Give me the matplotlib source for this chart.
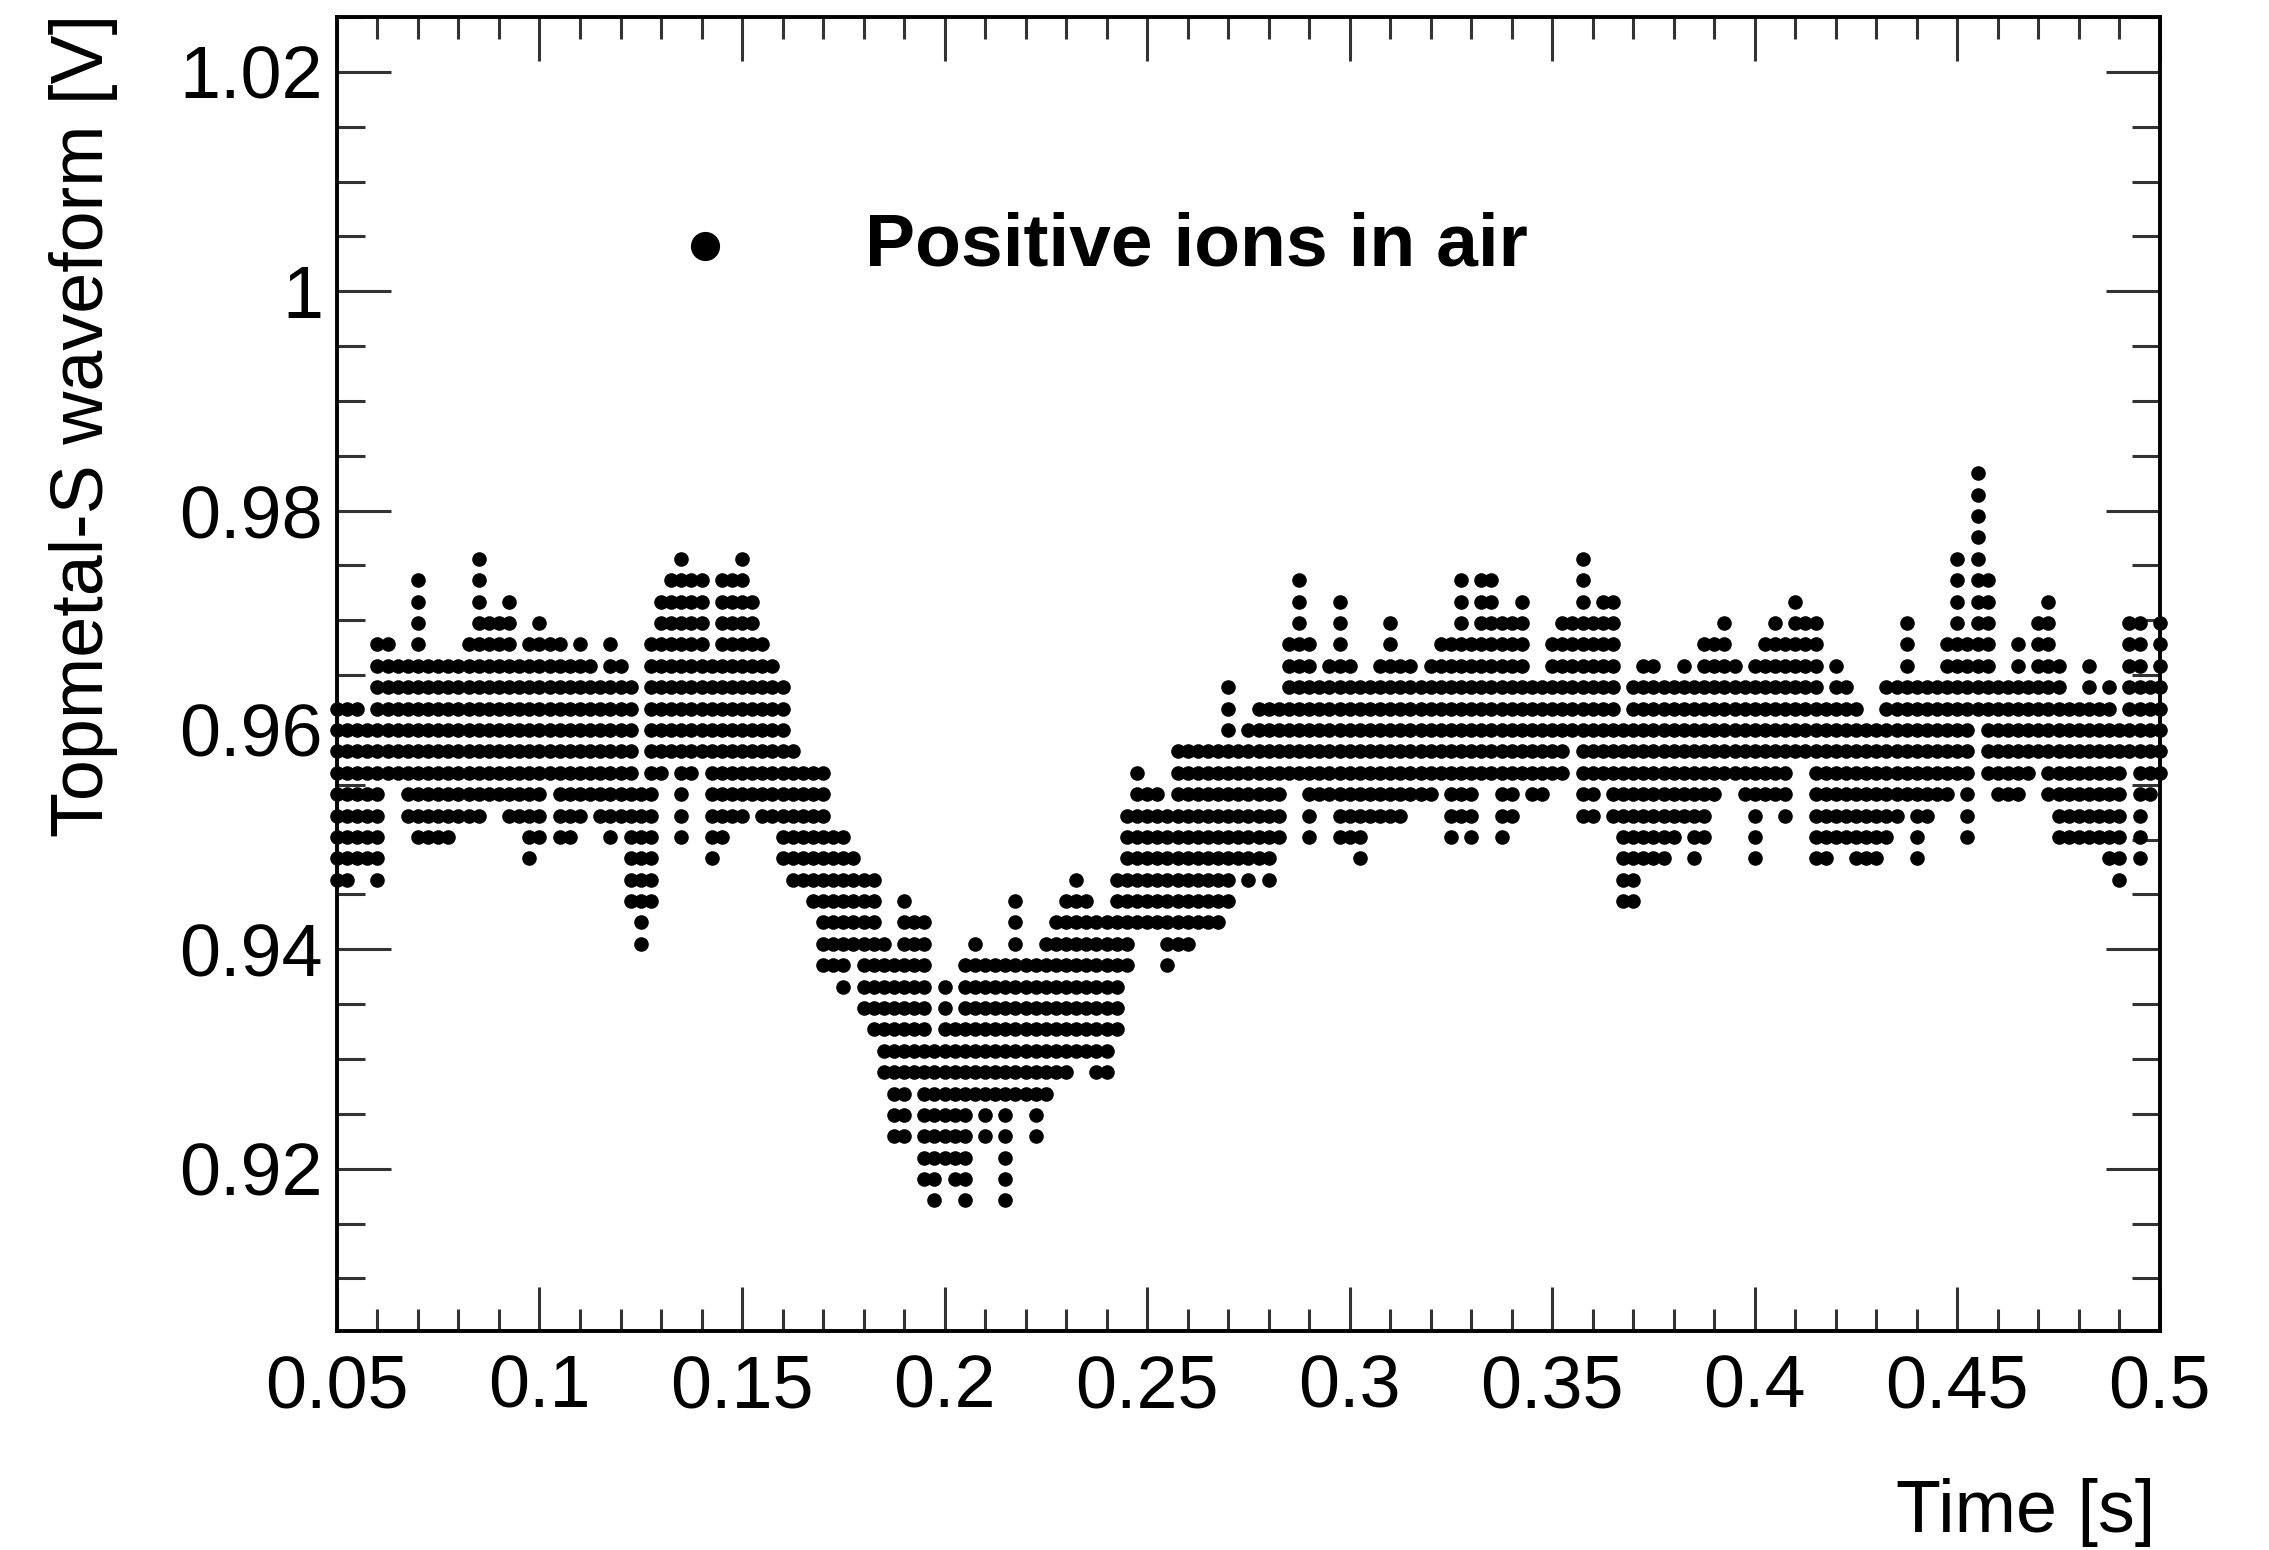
import numpy as np
import matplotlib
matplotlib.use("Agg")
import matplotlib.pyplot as plt
from matplotlib.ticker import MultipleLocator, FixedLocator

plt.rcParams['font.family'] = ['Liberation Sans', 'DejaVu Sans']

# ---- data ----
# sampling grid of the waveform columns
t_start = 0.05
t_step = 0.0025
n_cols = 181
# ADC quantisation: level n -> V = V0 + n * STEP
V0 = 0.960
STEP = 0.00195

# highest and lowest occupied ADC level in each time column
col_hi = [
    1, 1, 1, 0, 4, 4, 3, 3, 7, 3,
    3, 3, 3, 4, 8, 5, 5, 6, 3, 4,
    5, 4, 4, 3, 4, 3, 2, 4, 3, 2,
    -3, 4, 6, 7, 8, 7, 7, 3, 7, 7,
    8, 6, 4, 3, 2, -1, -2, -2, -2, -5,
    -5, -6, -7, -7, -10, -11, -8, -9, -9, -15,
    -12, -14, -11, -10, -11, -11, -11, -8, -11, -11,
    -10, -9, -8, -7, -8, -9, -9, -7, -4, -2,
    -3, -3, -4, -1, -1, -1, -1, -1, 2, -1,
    0, 1, 1, 1, 4, 7, 4, 2, 3, 6,
    3, 2, 2, 3, 5, 3, 3, 2, 3, 4,
    4, 7, 4, 7, 7, 5, 5, 6, 2, 2,
    4, 5, 5, 8, 5, 6, 6, 0, 2, 3,
    3, 2, 2, 3, 2, 4, 4, 5, 3, 2,
    3, 4, 5, 4, 6, 5, 5, 1, 3, 2,
    1, 0, 0, 2, 2, 5, 2, 2, 2, 4,
    8, 4, 12, 7, 2, 2, 4, 2, 5, 6,
    3, 1, 1, 3, 1, 2, 0, 5, 5, 2,
    5]
col_lo = [
    -7, -7, -6, -6, -7, -2, -2, -4, -5, -5,
    -5, -5, -4, -4, -4, -3, -3, -4, -4, -6,
    -5, -2, -5, -5, -4, -3, -4, -5, -4, -8,
    -10, -8, -2, -1, -5, -2, -1, -6, -5, -4,
    -4, -3, -4, -4, -6, -7, -7, -8, -11, -11,
    -12, -10, -13, -14, -16, -19, -19, -16, -21, -22,
    -20, -21, -22, -17, -19, -17, -22, -17, -17, -19,
    -17, -16, -16, -15, -15, -16, -16, -14, -11, -9,
    -9, -9, -11, -10, -10, -9, -9, -9, -8, -6,
    -7, -6, -7, -5, -2, -2, -5, -3, -3, -5,
    -5, -6, -4, -4, -4, -4, -3, -3, -3, -2,
    -5, -4, -5, -2, -2, -5, -4, -2, -3, -3,
    -2, -2, 0, -4, -4, -2, -4, -8, -8, -6,
    -6, -6, -5, -4, -6, -5, -3, -2, -2, -3,
    -6, -3, -3, -4, -1, -1, -6, -6, -5, -5,
    -6, -6, -6, -5, -4, -3, -6, -4, -3, -3,
    -2, -5, 1, -2, -3, -3, -3, -2, -1, -3,
    -5, -5, -5, -5, -5, -6, -7, -1, -6, -3,
    -2]

x_ticks = [0.05, 0.1, 0.15, 0.2, 0.25, 0.3, 0.35, 0.4, 0.45, 0.5]
x_ticklabels = ["0.05", "0.1", "0.15", "0.2", "0.25", "0.3", "0.35", "0.4", "0.45", "0.5"]
y_ticks = [0.92, 0.94, 0.96, 0.98, 1.0, 1.02]
y_ticklabels = ["0.92", "0.94", "0.96", "0.98", "1", "1.02"]
legend_label = "Positive ions in air"

# ---- build point list ----
times = t_start + t_step * np.arange(n_cols)
xs, ys = [], []
for t, hi, lo in zip(times, col_hi, col_lo):
    for n in range(lo, hi + 1):
        xs.append(t)
        ys.append(V0 + n * STEP)

# ---- figure ----
fig = plt.figure(figsize=(22.69, 15.5), dpi=100)
ax = fig.add_axes([0.1485, 0.1413, 0.8034, 0.8477])

ax.plot(xs, ys, 'o', color='black', ms=10.5, mew=0, linestyle='none', clip_on=False)

ax.set_xlim(0.05, 0.5)
ax.set_ylim(0.9052, 1.025)

ax.xaxis.set_major_locator(FixedLocator(x_ticks))
ax.set_xticklabels(x_ticklabels)
ax.xaxis.set_minor_locator(MultipleLocator(0.01))
ax.yaxis.set_major_locator(FixedLocator(y_ticks))
ax.set_yticklabels(y_ticklabels)
ax.yaxis.set_minor_locator(MultipleLocator(0.005))

for s in ax.spines.values():
    s.set_linewidth(2.8)

ax.tick_params(axis='both', which='both', direction='in', top=True, right=True,
               labelsize=53, width=2.2, color='#333333')
ax.tick_params(axis='x', which='major', length=32, pad=16)
ax.tick_params(axis='x', which='minor', length=16)
ax.tick_params(axis='y', which='major', length=39, pad=10)
ax.tick_params(axis='y', which='minor', length=20)

fig.text(0.037, 0.991, "Topmetal-S waveform [V]", rotation=90, ha='center', va='top',
         fontsize=53)
fig.text(0.950, 0.0245, "Time [s]", ha='right', va='center', fontsize=53)

# legend
ax.plot([0.2019], [0.8257], 'o', color='black', ms=21, mew=0, transform=ax.transAxes)
ax.text(0.2896, 0.8257, legend_label, transform=ax.transAxes, ha='left', va='center',
        fontsize=54, fontweight='bold')

fig.savefig("out.png", dpi=100)
